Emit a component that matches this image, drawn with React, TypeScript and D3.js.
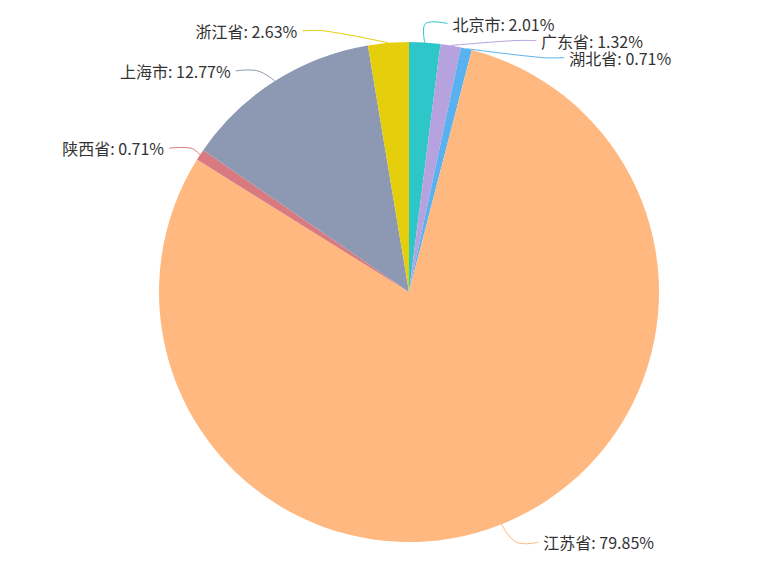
import React, { useMemo } from 'react'
import { pie, arc, path } from 'd3'

// shares per province, clockwise from 12 o'clock
const provinces = ['北京市', '广东省', '湖北省', '江苏省', '陕西省', '上海市', '浙江省']
const shares = [2.01, 1.32, 0.71, 79.85, 0.71, 12.77, 2.63]
const colors = ['#2ec7c9', '#b6a2de', '#5ab1ef', '#ffb980', '#d87a80', '#8d98b3', '#e5cf0d']

const W = 763
const H = 578
const cx = 409
const cy = 292
const R = 250
const LEN = 12
const LEN2 = 22
const GAP = 5
const LABEL_H = 17

type Pt = [number, number]
type Lbl = { i: number; x: number; y: number; h: number; pts: Pt[] }

// echarts-like shifting of labels on one side
const adjustSide = (list: Lbl[], dir: number) => {
    list.sort((a, b) => a.y - b.y)
    const shiftUp = (end: number, delta: number) => {
        for (let j = end; j >= 0; j--) {
            if (list[j].y - delta < 0) break
            list[j].y -= delta
            if (j > 0 && list[j].y > list[j - 1].y + list[j - 1].h) break
        }
    }
    const shiftDown = (start: number, end: number, delta: number) => {
        for (let j = start; j < end; j++) {
            if (list[j].y + delta > H) break
            list[j].y += delta
            if (j > start && j + 1 < end && list[j + 1].y > list[j].y + list[j].h) {
                shiftUp(j, delta / 2)
                return
            }
        }
        shiftUp(end - 1, delta / 2)
    }
    let lastY = 0
    for (let i = 0; i < list.length; i++) {
        const delta = list[i].y - lastY
        if (delta < 0) shiftDown(i, list.length, -delta)
        lastY = list[i].y + list[i].h
    }
    if (H - lastY < 0) shiftUp(list.length - 1, lastY - H)

    const changeX = (items: Lbl[], down: boolean) => {
        let last = down ? Number.MAX_VALUE : 0
        items.forEach(l => {
            const dy = Math.abs(l.y - cy)
            let dx = dy < R + LEN
                ? Math.sqrt((R + LEN + LEN2) ** 2 - dy * dy)
                : Math.abs(l.x - cx)
            if (down && dx >= last) dx = last - 10
            if (!down && dx <= last) dx = last + 10
            l.x = cx + dx * dir
            last = dx
        })
    }
    changeX(list.filter(l => l.y < cy), false)
    changeX(list.filter(l => l.y >= cy), true)
}

// zrender style smooth polyline through 3 points
const smoothLine = (pts: Pt[], smooth = 0.4) => {
    const [a, b, c] = pts
    const v = [(c[0] - a[0]) * smooth, (c[1] - a[1]) * smooth]
    let d0 = Math.hypot(b[0] - a[0], b[1] - a[1])
    let d1 = Math.hypot(c[0] - b[0], c[1] - b[1])
    const sum = d0 + d1
    if (sum) { d0 /= sum; d1 /= sum }
    const cp0 = [b[0] - v[0] * d0, b[1] - v[1] * d0]
    const cp1 = [b[0] + v[0] * d1, b[1] + v[1] * d1]
    const p = path()
    p.moveTo(a[0], a[1])
    p.bezierCurveTo(a[0], a[1], cp0[0], cp0[1], b[0], b[1])
    p.bezierCurveTo(cp1[0], cp1[1], c[0], c[1], c[0], c[1])
    return p.toString()
}

const App = () => {
    const arcs = useMemo(() => pie<number>().sort(null).value(d => d)(shares), [])
    const arcGen = arc<any>().innerRadius(0).outerRadius(R)

    const labels = useMemo(() => {
        const all: Lbl[] = arcs.map((a, i) => {
            const mid = (a.startAngle + a.endAngle) / 2
            const dx = Math.sin(mid)
            const dy = -Math.cos(mid)
            const s = dx < 0 ? -1 : 1
            const p1: Pt = [cx + R * dx, cy + R * dy]
            const p2: Pt = [p1[0] + dx * LEN, p1[1] + dy * LEN]
            const p3: Pt = [p2[0] + s * LEN2, p2[1]]
            return { i, x: p3[0] + s * GAP, y: p3[1], h: LABEL_H, pts: [p1, p2, p3] }
        })
        const left = all.filter(l => l.x < cx)
        const right = all.filter(l => l.x >= cx)
        adjustSide(right, 1)
        adjustSide(left, -1)
        all.forEach(l => {
            const dist = l.pts[1][0] - l.pts[2][0]
            l.pts[2][0] = l.x < cx ? l.x + GAP : l.x - GAP
            l.pts[1][0] = l.pts[2][0] + dist
            l.pts[1][1] = l.pts[2][1] = l.y
        })
        return all
    }, [arcs])

    return (
        <svg width={W} height={H} style={{ position: 'absolute', left: 0, top: 0, display: 'block' }}>
            <rect width={W} height={H} fill='#fff' />
            <g transform={`translate(${cx},${cy})`}>
                {arcs.map((a, i) => (
                    <path key={provinces[i]} d={arcGen(a) as string} fill={colors[i]} />
                ))}
            </g>
            {labels.map(l => (
                <g key={provinces[l.i]}>
                    <path d={smoothLine(l.pts)} fill='none' stroke={colors[l.i]} strokeWidth={1} />
                    <text
                        x={l.x}
                        y={l.y}
                        textAnchor={l.x < cx ? 'end' : 'start'}
                        dominantBaseline='central'
                        fontFamily='"Noto Sans CJK SC", "Noto Sans", sans-serif'
                        fontSize={16}
                        fill='#333'
                    >
                        {`${provinces[l.i]}: ${shares[l.i].toFixed(2)}%`}
                    </text>
                </g>
            ))}
        </svg>
    )
}

export default App
